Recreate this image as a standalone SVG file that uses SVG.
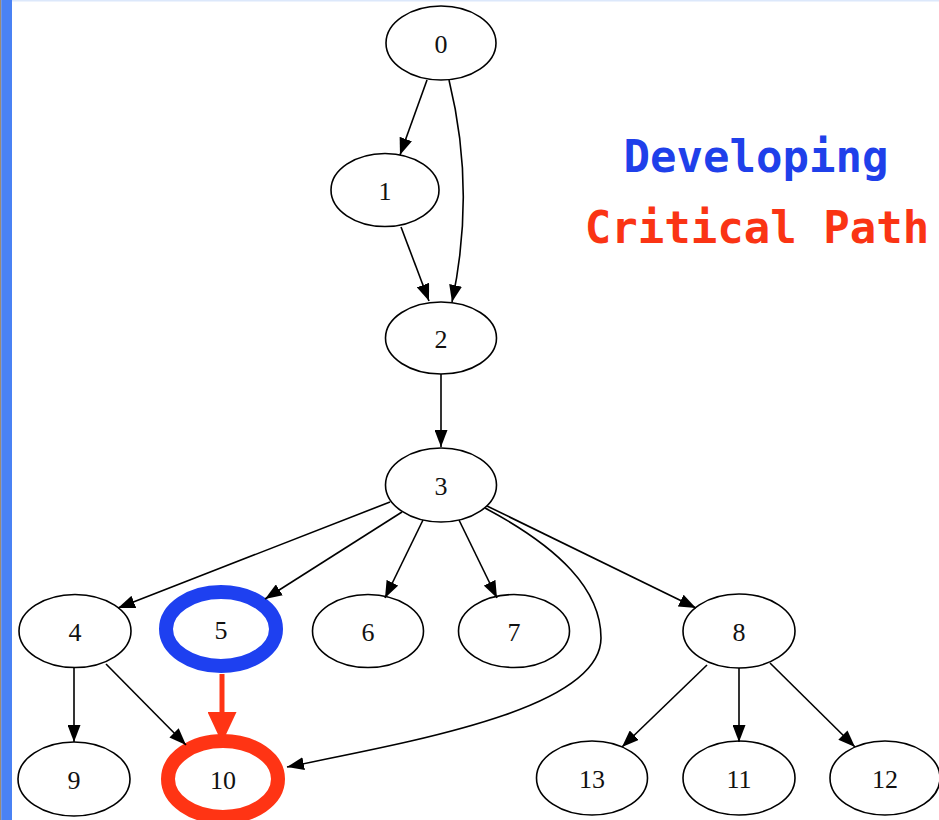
<svg xmlns="http://www.w3.org/2000/svg" width="939" height="820" viewBox="0 0 939 820">
  <style>
    .node ellipse { fill: #ffffff; stroke: #000000; stroke-width: 1.6; }
    .node text { font-family: "Liberation Serif", "Times New Roman", serif; font-size: 26px; fill: #111111; text-anchor: middle; }
    .edge { fill: none; stroke: #000000; stroke-width: 1.6; marker-end: url(#arrow); }
    .legend { font-family: "DejaVu Sans Mono", "Liberation Mono", monospace; font-weight: bold; font-size: 44px; text-anchor: middle; }
  </style>
  <defs>
    <marker id="arrow" markerUnits="userSpaceOnUse" markerWidth="17" markerHeight="13" refX="17" refY="6.5" orient="auto">
      <path d="M0,0 L17,6.5 L0,13 Z" fill="#000000"/>
    </marker>
    <marker id="arrow-red" markerUnits="userSpaceOnUse" markerWidth="31" markerHeight="29" refX="31" refY="14.5" orient="auto">
      <path d="M0,0 L31,14.5 L0,29 Z" fill="#ff3414"/>
    </marker>
  </defs>

  <rect x="0" y="0" width="939" height="820" fill="#ffffff"/>
  <!-- frame edges -->
  <rect x="12" y="0" width="927" height="1.5" fill="#dce8fb"/>
  <rect x="0" y="0" width="1.2" height="820" fill="#9a8a78"/>
  <rect x="1.2" y="0" width="10.8" height="820" fill="#4a82f4"/>

  <!-- legend -->
  <text class="legend" x="756" y="172" fill="#1f40ea">Developing</text>
  <text class="legend" x="757" y="243" fill="#fa3414">Critical Path</text>

  <!-- nodes -->
  <g id="n0" class="node"><ellipse cx="441" cy="43" rx="55" ry="37"/><text x="441" y="53">0</text></g>
  <g id="n1" class="node"><ellipse cx="385" cy="190" rx="54" ry="36.5"/><text x="385" y="200">1</text></g>
  <g id="n2" class="node"><ellipse cx="441" cy="338" rx="55.5" ry="36"/><text x="441" y="348">2</text></g>
  <g id="n3" class="node"><ellipse cx="441" cy="485" rx="55.5" ry="37"/><text x="441" y="495">3</text></g>
  <g id="n4" class="node"><ellipse cx="75" cy="631" rx="56" ry="36.5"/><text x="75" y="641">4</text></g>
  <g id="n5" class="node"><ellipse cx="221" cy="629" rx="55" ry="37" style="stroke:#1e40f0;stroke-width:14"/><text x="221" y="639">5</text></g>
  <g id="n6" class="node"><ellipse cx="368" cy="631" rx="55.5" ry="36.5"/><text x="368" y="641">6</text></g>
  <g id="n7" class="node"><ellipse cx="514" cy="631" rx="55.5" ry="36.5"/><text x="514" y="641">7</text></g>
  <g id="n8" class="node"><ellipse cx="739" cy="631" rx="56" ry="37"/><text x="739" y="641">8</text></g>
  <g id="n9" class="node"><ellipse cx="74" cy="779" rx="56" ry="37"/><text x="74" y="789">9</text></g>
  <g id="n10" class="node"><ellipse cx="223" cy="779" rx="55" ry="38" style="stroke:#ff3414;stroke-width:14"/><text x="223" y="789">10</text></g>
  <g id="n13" class="node"><ellipse cx="592" cy="778" rx="55.5" ry="37"/><text x="592" y="788">13</text></g>
  <g id="n11" class="node"><ellipse cx="739" cy="778" rx="56" ry="37"/><text x="739" y="788">11</text></g>
  <g id="n12" class="node"><ellipse cx="885" cy="778" rx="55" ry="37"/><text x="885" y="788">12</text></g>

  <!-- connectors -->
  <g id="edges">
    <path class="edge" d="M427,80 L400,155"/>
    <path class="edge" d="M449,80 Q476,190 452,302"/>
    <path class="edge" d="M401,227 L429,301"/>
    <path class="edge" d="M441,374 L441,447"/>
    <path class="edge" d="M390,502 L118,608"/>
    <path class="edge" d="M402,512 L265,599"/>
    <path class="edge" d="M423,520 L385,598"/>
    <path class="edge" d="M459,520 L497,598"/>
    <path class="edge" d="M487,506 L696,608"/>
    <path class="edge" d="M485,508 C560,548 601,590 601,638 C601,708 420,740 287,767"/>
    <path class="edge" d="M74,667 L74,742"/>
    <path class="edge" d="M106,664 L186,745"/>
    <path class="edge" d="M707,665 L622,747"/>
    <path class="edge" d="M739,668 L739,742"/>
    <path class="edge" d="M770,663 L855,747"/>
    <path d="M222,674 L222,743" fill="none" stroke="#ff3414" stroke-width="5" marker-end="url(#arrow-red)"/>
  </g>
</svg>
